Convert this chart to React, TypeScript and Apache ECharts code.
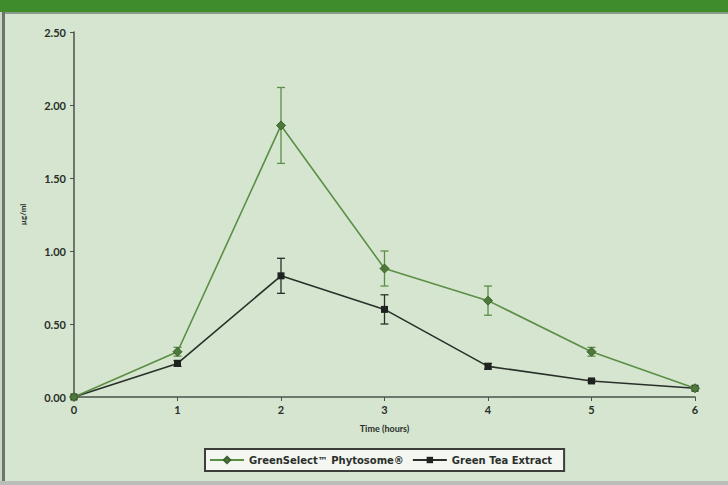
import React, { useEffect, useRef } from "react";
import * as echarts from "echarts";

const hours = [0, 1, 2, 3, 4, 5, 6];
const phytosome = [0, 0.31, 1.86, 0.88, 0.66, 0.31, 0.06];
const phytosomeErr = [0, 0.03, 0.26, 0.12, 0.1, 0.03, 0];
const extract = [0, 0.23, 0.83, 0.6, 0.21, 0.11, 0.06];
const extractErr = [0, 0.02, 0.12, 0.1, 0.02, 0.01, 0];
const yTicks = [0, 0.5, 1, 1.5, 2, 2.5];
const seriesNames = ["GreenSelect™ Phytosome®", "Green Tea Extract"];

const GREEN = "#5b8f45";
const DARK = "#2a2f2a";
const FONT = "Lato";

function errorSeries(vals: number[], errs: number[], color: string, name: string) {
  return {
    type: "custom",
    name: name + " err",
    z: 1,
    silent: true,
    data: hours.map((h, i) => [h, vals[i] - errs[i], vals[i] + errs[i]]),
    renderItem: (params: any, api: any) => {
      const x = api.value(0);
      const lo = api.coord([x, api.value(1)]);
      const hi = api.coord([x, api.value(2)]);
      if (Math.abs(lo[1] - hi[1]) < 2) return null;
      const w = 4;
      const style = { stroke: color, lineWidth: 1.3 };
      return {
        type: "group",
        children: [
          { type: "line", shape: { x1: lo[0], y1: lo[1], x2: hi[0], y2: hi[1] }, style },
          { type: "line", shape: { x1: lo[0] - w, y1: lo[1], x2: lo[0] + w, y2: lo[1] }, style },
          { type: "line", shape: { x1: hi[0] - w, y1: hi[1], x2: hi[0] + w, y2: hi[1] }, style },
        ],
      };
    },
  };
}

export default function App() {
  const ref = useRef<HTMLDivElement>(null);
  useEffect(() => {
    const chart = echarts.init(ref.current!, null, { renderer: "svg" });
    chart.setOption({
      animation: false,
      backgroundColor: "#d5e5cf",
      graphic: [
        { type: "rect", shape: { x: 0, y: 0, width: 728, height: 12 }, style: { fill: "#3f8c2c" }, z: 10 },
        { type: "rect", shape: { x: 0, y: 12, width: 728, height: 2 }, style: { fill: "#8a9a88" }, z: 10 },
        { type: "rect", shape: { x: 2, y: 12, width: 3, height: 473 }, style: { fill: "#6e736e" }, z: 10 },
        { type: "rect", shape: { x: 0, y: 12, width: 2, height: 473 }, style: { fill: "#c9d6c4" }, z: 10 },
        { type: "rect", shape: { x: 0, y: 481, width: 728, height: 4 }, style: { fill: "#b9bfb8" }, z: 10 },
      ],
      grid: { left: 74, right: 33, top: 32, bottom: 88 },
      xAxis: {
        type: "value",
        min: 0,
        max: 6,
        interval: 1,
        name: "Time (hours)",
        nameLocation: "middle",
        nameGap: 27,
        nameTextStyle: { fontFamily: FONT, fontSize: 9, fontWeight: "bold", color: DARK },
        axisLine: { lineStyle: { color: "#4a524a", width: 1.5 } },
        axisTick: { show: true, length: 4, lineStyle: { color: "#4a524a" } },
        axisLabel: { fontFamily: FONT, fontSize: 11, fontWeight: "bold", color: DARK, margin: 7 },
        splitLine: { show: false },
      },
      yAxis: {
        type: "value",
        min: 0,
        max: 2.5,
        interval: 0.5,
        name: "µg/ml",
        nameLocation: "middle",
        nameGap: 47,
        nameTextStyle: { fontFamily: FONT, fontSize: 8, fontWeight: "bold", color: DARK },
        axisLine: { show: true, lineStyle: { color: "#4a524a", width: 1.5 } },
        axisTick: { show: true, length: 4, lineStyle: { color: "#4a524a" } },
        axisLabel: {
          fontFamily: FONT,
          fontSize: 11,
          fontWeight: "bold",
          color: DARK,
          margin: 8,
          formatter: (v: number) => (yTicks.includes(v) ? v.toFixed(2) : ""),
        },
        splitLine: { show: false },
      },
      legend: {
        bottom: 14,
        left: 205,
        data: seriesNames,
        backgroundColor: "#f4f6f2",
        borderColor: "#3a3f3a",
        borderWidth: 2,
        borderRadius: 0,
        padding: [6, 12, 6, 4],
        itemWidth: 34,
        itemHeight: 8,
        itemGap: 8,
        textStyle: { fontFamily: "DejaVu Sans", fontSize: 10, fontWeight: "bold", color: DARK },
      },
      series: [
        errorSeries(phytosome, phytosomeErr, GREEN, seriesNames[0]),
        errorSeries(extract, extractErr, DARK, seriesNames[1]),
        {
          type: "line",
          name: seriesNames[0],
          data: hours.map((h, i) => [h, phytosome[i]]),
          symbol: "diamond",
          symbolSize: 9,
          z: 3,
          lineStyle: { color: GREEN, width: 1.6 },
          itemStyle: { color: "#4d7a3a", borderColor: "#3d5f30", borderWidth: 1 },
        },
        {
          type: "line",
          name: seriesNames[1],
          data: hours.map((h, i) => [h, extract[i]]),
          symbol: "rect",
          symbolSize: 7,
          z: 2,
          lineStyle: { color: DARK, width: 1.6 },
          itemStyle: { color: "#1f231f" },
        },
      ],
    });
    return () => chart.dispose();
  }, []);
  return <div ref={ref} style={{ width: 728, height: 485, position: "fixed", left: 0, top: 0 }} />;
}
